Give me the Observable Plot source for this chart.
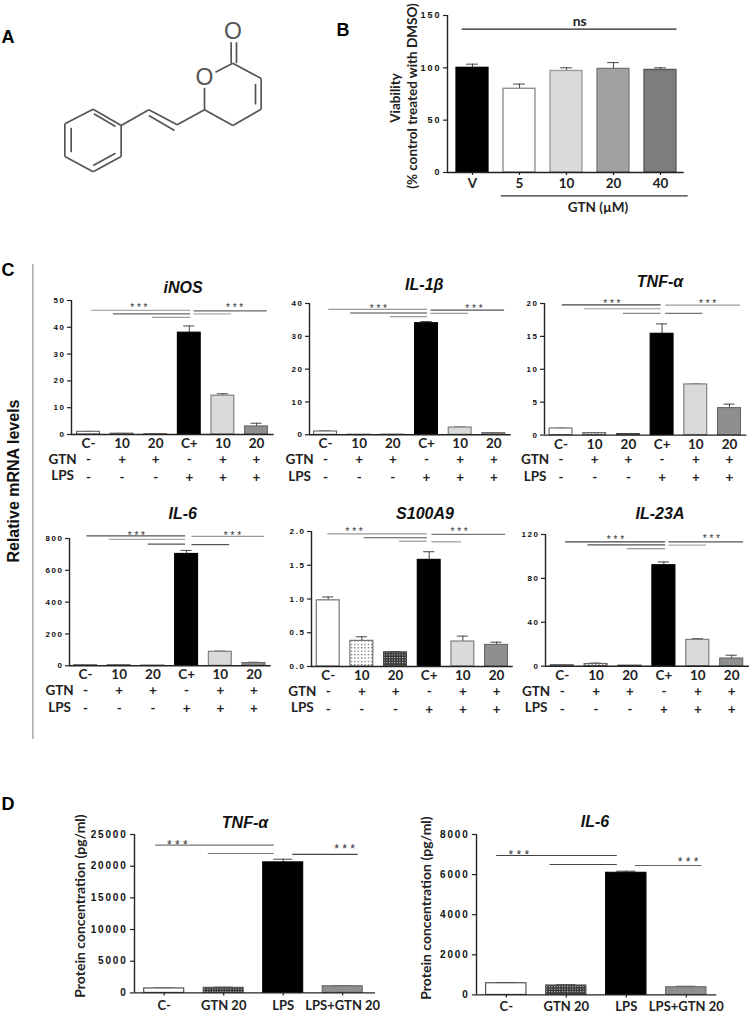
<!DOCTYPE html>
<html><head><meta charset="utf-8">
<script src="https://cdn.jsdelivr.net/npm/d3@7"></script>
<script src="https://cdn.jsdelivr.net/npm/@observablehq/plot@0.6"></script>
<style>
html,body{margin:0;padding:0;background:#fff}
#page{position:relative;width:750px;height:1015px;overflow:hidden;background:#fff}
#page svg{position:absolute;background:transparent;overflow:visible}
.lab{position:absolute;white-space:nowrap;transform:translate(-50%,-50%);color:#111;line-height:1}
.rot{transform:translate(-50%,-50%) rotate(-90deg)}
.title{font:italic bold 16px "Liberation Sans",sans-serif}
.letter{font:bold 18px "Liberation Sans",sans-serif;color:#000}
.call{font:bold 13.5px "Lato",sans-serif;color:#222}
</style></head><body>
<svg width="0" height="0" style="position:absolute"><defs>
<pattern id="dots" width="3.4" height="3.4" patternUnits="userSpaceOnUse"><rect width="3.4" height="3.4" fill="#fff"/><rect width="1.2" height="1.2" fill="#555"/></pattern>
<pattern id="hatch" width="2.6" height="2.6" patternUnits="userSpaceOnUse"><rect width="2.6" height="2.6" fill="#333"/><rect width="1.1" height="1.1" fill="#ddd"/></pattern>
</defs></svg>
<div id="page"></div>
<script>
// ---------- data ----------
const mrnaLabels = ["C-","10","20","C+","10","20"];
const gtnSigns = ["-","+","+","-","+","+"];
const lpsSigns = ["-","-","-","+","+","+"];

const viabilityLabels = ["V","5","10","20","40"];
const viabilityValues = [100,80,97,99,98];
const viabilityTops   = [103.5,84.5,100,105,100];
const viabilitySig    = [[-0.22,4.35,137]];

const inosValues = [1,0.3,0.05,38,14.5,3];
const inosTops   = [1.15,0.4,0.05,40.5,15.2,4.2];
const inosSig    = [[0.09,3.04,46.3],[0.74,3.04,45],[1.91,3.04,43.7],[3.14,5.32,46.1],[3.14,4.26,45]];
const inosStars  = [[1.5,48],[4.35,48]];

const il1Values = [1,0.03,0.03,34,2.2,0.5];
const il1Tops   = [1.15,0.03,0.03,34.5,2.35,0.6];
const il1Sig    = [[0.10,3.03,38.2],[0.75,3.03,37.1],[1.93,3.03,36],[3.13,5.32,38],[3.13,4.24,37]];
const il1Stars  = [[1.57,39],[4.41,39]];

const tnfValues = [1,0.3,0.15,15.4,7.7,4.1];
const tnfTops   = [1.05,0.33,0.17,16.9,7.75,4.7];
const tnfSig    = [[0.04,2.97,19.8],[0.69,2.97,19.2],[1.85,2.97,18.5],[3.11,5.32,19.75],[3.11,4.21,18.5]];
const tnfStars  = [[1.51,20.2],[4.35,20.2]];

const il6Values = [4,4,1,703,88,17];
const il6Tops   = [5,5,1,725,92,22];
const il6Sig    = [[0.04,2.97,817],[0.70,2.97,794],[1.86,2.97,765],[3.16,5.31,813],[3.16,4.28,761]];
const il6Stars  = [[1.51,831],[4.36,831]];

const s100Values = [0.98,0.38,0.21,1.58,0.37,0.32];
const s100Tops   = [1.03,0.44,0.22,1.70,0.45,0.36];
const s100Sig    = [[-0.01,2.94,1.966],[1.07,2.94,1.907],[2.12,2.94,1.856],[3.08,5.27,1.956],[3.08,3.96,1.847]];
const s100Stars  = [[0.77,2.03],[3.89,2.02]];

const il23Values = [1,2,0.5,92,24,7];
const il23Tops   = [1.4,2.8,0.6,95,25,10];
const il23Sig    = [[0.10,3.05,113.3],[0.76,3.05,110.6],[1.92,3.05,107],[3.15,5.35,113.3],[3.15,4.26,110.3]];
const il23Stars  = [[1.57,117],[4.4,118]];

const proteinLabels = ["C-","GTN 20","LPS","LPS+GTN 20"];
const tnfProteinValues = [700,800,20600,1050];
const tnfProteinTops   = [760,900,21100,1100];
const tnfProteinSig    = [[-0.146,1.85,23311],[0.74,1.85,22000],[2.16,3.26,21850]];
const tnfProteinStars  = [[0.22,23680],[3.03,22950]];

const il6ProteinValues = [580,470,6090,380];
const il6ProteinTops   = [610,510,6170,430];
const il6ProteinSig    = [[-0.16,1.85,6953],[0.73,1.85,6504],[2.15,3.26,6454]];
const il6ProteinStars  = [[0.21,7050],[3.03,6700]];

// molecule of panel A: ring, chain and double bonds in drawing units
const moleculeBonds = [
 [193,370,278,326],[278,326,362,375],[362,375,362,468],[362,468,278,514],[278,514,193,468],[193,468,193,370],
 [212,382,212,455],[280,340,345,378],[278,495,345,458],
 [362,375,445,328],[445,328,530,373],[445,345,522,390],[530,373,612,328],
 [612,328,612,262],[612,328,697,375],[697,375,782,326],[782,326,782,234],[765,250,765,312],
 [782,234,697,188],[697,188,645,215],[692,188,692,125],[708,188,708,125]
];
const moleculeAtoms = [[612,232,"O"],[697,93,"O"]];

// ---------- styles and layout ----------
const mrnaFills = ["#fff","url(#dots)","url(#hatch)","#000","#d9dbda","#8e8f8f"];
const mrnaStrokes = ["#666","#666","#444","#000","#777","#666"];
const viabilityFills = ["#000","#fff","#d9dbda","#a0a1a3","#7c7d7f"];
const viabilityStrokes = ["#000","#888","#999","#777","#555"];
const proteinFills = ["#fff","url(#hatch)","#000","#8e8f8f"];
const proteinStrokes = ["#444","#555","#000","#666"];
const inosSigColors = ["#aaa","#666","#999","#666","#aaa"];
const il1SigColors  = ["#999","#444","#999","#555","#999"];
const tnfSigColors  = ["#444","#999","#888","#999","#777"];
const il6SigColors  = ["#555","#aaa","#555","#999","#555"];
const s100SigColors = ["#999","#555","#999","#777","#999"];
const il23SigColors = ["#444","#555","#777","#555","#aaa"];
const tnfProteinSigColors = ["#777","#777","#444"];
const il6ProteinSigColors = ["#444","#444","#666"];
const AXIS = "#222";
const page = document.getElementById("page");

function label(text, x, y, cls, extra) {
  const d = document.createElement("div");
  d.className = "lab " + cls;
  d.textContent = text;
  d.style.left = x + "px"; d.style.top = y + "px";
  if (extra) Object.assign(d.style, extra);
  page.appendChild(d);
}

function chart(p) {
  const ML = 52, MT = 30, MR = 1, MB = p.rows ? 56 : 20;
  const xDomain = [(p.left - p.c0) / p.step, (p.right - p.c0) / p.step];
  const w = p.right - p.left, h = p.bottom - p.top;
  const idx = d3.range(p.values.length);
  const hw = p.hw ?? 0.34, cap = p.cap ?? 0.165;
  const colors = p.sigColors ?? p.sig.map(() => "#222");
  const marks = [
    Plot.ruleX(idx, {x: i => i, y1: i => p.values[i], y2: i => p.tops[i], stroke: "#444", strokeWidth: 1}),
    Plot.ruleY(idx, {y: i => p.tops[i], x1: i => i - cap, x2: i => i + cap, stroke: "#444", strokeWidth: 1}),
    Plot.rectY(idx, {x1: i => i - hw, x2: i => i + hw, y1: 0, y2: i => p.values[i], fill: i => p.fills[i], stroke: i => p.strokes[i], strokeWidth: p.barStroke ?? 1.1}),
    Plot.ruleY([0], {stroke: AXIS, strokeWidth: 1.4}),
    Plot.ruleX([xDomain[0]], {y1: 0, y2: p.yMax, stroke: AXIS, strokeWidth: 1.4}),
    Plot.axisY({ticks: p.yTicks, tickSize: 4, tickPadding: p.yPad ?? 2, anchor: "left", label: null,
      tickFormat: p.yFormat ?? (d => String(d)), fontSize: p.yFont, fontWeight: "bold",
      fontFamily: "Liberation Sans", stroke: AXIS, strokeWidth: 1.2, fill: "#111"}),
    Plot.axisX({ticks: idx, tickFormat: i => p.labels[i], tickSize: p.xTick ?? 0, tickPadding: p.xPad ?? 4, anchor: "bottom", label: null,
      fontSize: p.xFont ?? 13.5, fontWeight: "bold", fontFamily: "Lato", stroke: AXIS, fill: "#222", strokeWidth: 1.2}),
    Plot.ruleY(d3.range(p.sig.length), {y: i => p.sig[i][2], x1: i => p.sig[i][0], x2: i => p.sig[i][1], stroke: i => colors[i], strokeWidth: p.sigWidth ?? 1.2}),
  ];
  if (p.stars) marks.push(Plot.text(p.stars, {x: d => d[0], y: d => d[1], dy: 2, text: () => "* * *",
    fontSize: p.starFont ?? 10, fontFamily: "Liberation Sans", fill: "#333"}));
  if (p.rows) {
    const common = {x: (d, i) => i, text: d => d, frameAnchor: "bottom", lineAnchor: "middle", fontSize: 13.5, fontWeight: "bold", fontFamily: "Lato", fill: "#222"};
    marks.push(Plot.text(gtnSigns, {...common, dy: 25}));
    marks.push(Plot.text(lpsSigns, {...common, dy: 43}));
    const rowName = {x: () => -0.77, text: d => d, frameAnchor: "bottom", lineAnchor: "middle", fontSize: 13.5, fontWeight: "bold", fontFamily: "Lato", fill: "#222"};
    marks.push(Plot.text(["GTN"], {...rowName, dy: 25}));
    marks.push(Plot.text(["LPS"], {...rowName, dy: 41.5}));
  }
  if (p.extra) marks.push(...p.extra);
  const svg = Plot.plot({
    width: w + ML + MR, height: h + MT + MB,
    marginLeft: ML, marginRight: MR, marginTop: MT, marginBottom: MB,
    x: {domain: xDomain, axis: null},
    y: {domain: [0, p.yMax], axis: null},
    color: {type: "identity"},
    style: {background: "transparent"},
    marks
  });
  svg.style.left = (p.left - ML) + "px";
  svg.style.top = (p.top - MT) + "px";
  d3.select(svg).selectAll('g[aria-label="y-axis tick label"] text').style("letter-spacing", p.ySpace + "px");
  page.appendChild(svg);
}

// Panel A
{
  const svg = Plot.plot({
    width: 330, height: 210, margin: 0,
    x: {domain: [0, 990], axis: null},
    y: {domain: [630, 0], axis: null},
    style: {background: "transparent"},
    marks: [
      Plot.link(moleculeBonds, {x1: d => d[0], y1: d => d[1], x2: d => d[2], y2: d => d[3], stroke: "#555", strokeWidth: 1.7, markerEnd: "none"}),
      Plot.text(moleculeAtoms, {x: d => d[0], y: d => d[1], text: d => d[2], fontSize: 23, fontFamily: "Liberation Sans", fill: "#555"})
    ]
  });
  svg.style.left = "0px"; svg.style.top = "0px";
  page.appendChild(svg);
}

// Panel B
chart({left: 447.3, right: 684, top: 14.7, bottom: 171.7, c0: 472.3, step: 47, hw: 0.34, cap: 0.125,
  yMax: 150, yTicks: [0,50,100,150], yFont: 9, ySpace: 2, xFont: 13.5, xTick: 3, xPad: 3,
  labels: viabilityLabels, values: viabilityValues, tops: viabilityTops,
  fills: viabilityFills, strokes: viabilityStrokes, sig: viabilitySig, barStroke: 1.3,
  extra: [
    Plot.text(["ns"], {x: () => 2.28, y: () => 144, text: d => d, fontSize: 14, fontWeight: "bold", fontFamily: "Lato", fill: "#222"})
  ]});

const mrnaBase = {labels: mrnaLabels, fills: mrnaFills, strokes: mrnaStrokes, yFont: 8, ySpace: 1.6, rows: true};
chart({...mrnaBase, left: 70.7, right: 273.3, top: 300, bottom: 434, c0: 87.7, step: 33.6, yMax: 50, yTicks: [0,10,20,30,40,50],
  values: inosValues, tops: inosTops, sig: inosSig, sigColors: inosSigColors, stars: inosStars});
chart({...mrnaBase, left: 309.3, right: 511, top: 303, bottom: 434.3, c0: 325.3, step: 33.67, yMax: 40, yTicks: [0,10,20,30,40],
  values: il1Values, tops: il1Tops, sig: il1Sig, sigColors: il1SigColors, stars: il1Stars});
chart({...mrnaBase, left: 544.3, right: 746.7, top: 302.7, bottom: 434.3, c0: 560.8, step: 33.7, yMax: 20, yTicks: [0,5,10,15,20],
  values: tnfValues, tops: tnfTops, sig: tnfSig, sigColors: tnfSigColors, stars: tnfStars});
chart({...mrnaBase, left: 69, right: 270.7, top: 537.7, bottom: 665, c0: 85, step: 33.7, yMax: 800, yTicks: [0,200,400,600,800],
  values: il6Values, tops: il6Tops, sig: il6Sig, sigColors: il6SigColors, stars: il6Stars});
chart({...mrnaBase, left: 311, right: 512.7, top: 531, bottom: 666, c0: 327.7, step: 33.67, yMax: 2, yTicks: [0,0.5,1,1.5,2], yFormat: d3.format(".1f"),
  values: s100Values, tops: s100Tops, sig: s100Sig, sigColors: s100SigColors, stars: s100Stars});
chart({...mrnaBase, left: 545, right: 749, top: 534, bottom: 665.7, c0: 561.7, step: 33.9, yMax: 120, yTicks: [0,40,80,120],
  values: il23Values, tops: il23Tops, sig: il23Sig, sigColors: il23SigColors, stars: il23Stars});

const protBase = {labels: proteinLabels, fills: proteinFills, strokes: proteinStrokes, yFont: 10, ySpace: 1.8, xTick: 3, xFont: 13, hw: 0.336, cap: 0.16, yPad: 3, starFont: 12};
chart({...protBase, xPad: 5, left: 134, right: 375, top: 834.3, bottom: 992.7, c0: 163.7, step: 59.5, yMax: 25000, yTicks: [0,5000,10000,15000,20000,25000],
  values: tnfProteinValues, tops: tnfProteinTops, sig: tnfProteinSig, sigColors: tnfProteinSigColors, stars: tnfProteinStars});
chart({...protBase, xPad: 3.5, left: 475.7, right: 716, top: 834.3, bottom: 994.7, c0: 505.5, step: 60, yMax: 8000, yTicks: [0,2000,4000,6000,8000],
  values: il6ProteinValues, tops: il6ProteinTops, sig: il6ProteinSig, sigColors: il6ProteinSigColors, stars: il6ProteinStars});

// Panel C vertical divider + GTN underline of panel B
{
  const s = Plot.plot({width: 750, height: 1015, margin: 0,
    x: {domain: [0, 750], axis: null}, y: {domain: [1015, 0], axis: null},
    style: {background: "transparent"},
    marks: [
      Plot.ruleX([32.3], {y1: 264, y2: 739, stroke: "#aaa", strokeWidth: 1.5}),
      Plot.ruleY([195.3], {x1: 500.7, x2: 687.7, stroke: "#333", strokeWidth: 1.3})
    ]});
  s.style.left = "0px"; s.style.top = "0px";
  page.appendChild(s);
}

// Text
label("A", 8, 37, "letter");
label("B", 343, 30, "letter");
label("C", 8, 270, "letter");
label("D", 8, 804, "letter");
label("GTN (µM)", 598, 207, "call");
label("Viability", 395, 98, "call rot");
label("(% control treated with DMSO)", 412, 96, "call rot");
label("Relative mRNA levels", 14, 481, "rot", {font: 'bold 16px "Liberation Sans",sans-serif', color: "#111"});
label("Protein concentration (pg/ml)", 79.3, 906, "call rot", {fontSize: "14px"});
label("Protein concentration (pg/ml)", 425, 907.5, "call rot", {fontSize: "14px"});
label("iNOS", 183, 287.7, "title");
label("IL-1β", 424.3, 285, "title");
label("TNF-α", 660, 282, "title");
label("IL-6", 182.7, 514, "title");
label("S100A9", 425, 514, "title");
label("IL-23A", 660, 514, "title");
label("TNF-α", 245, 822.7, "title");
label("IL-6", 595, 821.7, "title");
</script>
</body></html>
